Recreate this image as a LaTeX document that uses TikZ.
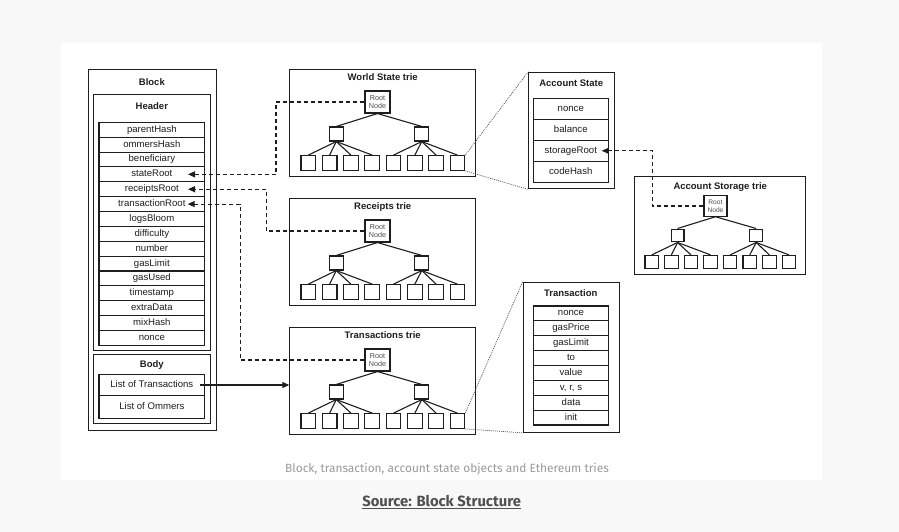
\documentclass[tikz,border=0pt]{standalone}
\usepackage{fontspec}
\setmainfont{Liberation Sans}
\newfontfamily\capfont{Fira Sans}
\usetikzlibrary{arrows.meta,calc}
\definecolor{bgc}{HTML}{F8F8F8}
\definecolor{ink}{HTML}{1E1E1E}
\definecolor{capc}{HTML}{9A9A9A}
\definecolor{srcc}{HTML}{505050}
\tikzset{
  panel/.style={draw=ink, line width=1.15pt, fill=white, inner sep=0},
  ttl/.style={font=\fontsize{9.5}{11}\selectfont\bfseries, text=ink, inner sep=0, text height=6.8pt, text depth=1.9pt},
  field/.style={draw=ink, line width=1.05pt, inner sep=0, font=\fontsize{9.6}{11}\selectfont, text=ink, text height=6.8pt, text depth=1.9pt},
  tnode/.style={draw=ink, line width=1.1pt, fill=white, inner sep=0},
  tedge/.style={draw=ink, line width=1.1pt},
  ptr/.style={draw=ink, line width=1.15pt, dash pattern=on 4pt off 3pt, -{Triangle[length=7pt,width=6pt]}},
  solidptr/.style={draw=ink, line width=1.15pt, -{Triangle[length=7pt,width=6pt]}},
  zoomline/.style={draw=ink!75, line width=0.7pt, dash pattern=on 1pt off 1pt},
}
% prefix, left, top, scale, title, title dy
\newcommand{\drawtrie}[6]{%
  \begin{scope}[shift={(#2,#3)}]
    \pgfmathsetmacro\rfs{7.2*#4}%
    \pgfmathsetmacro\rbs{8.2*#4}%
    \node[panel, anchor=north west, minimum width={#4*185.7pt}, minimum height={#4*106.7pt}] (#1) at (0,0) {};
    \node[ttl] (#1-title) at ({#4*93.4},#6) {#5};
    \node[tnode, minimum width={#4*25pt}, minimum height={#4*22pt}, align=center,
          font=\fontsize{\rfs}{\rbs}\selectfont, text=ink!80] (#1-root) at ({#4*88.2},{#4*33}) {Root\\Node};
    \node[tnode, minimum size={#4*14pt}] (#1-a) at ({#4*47},{#4*65}) {};
    \node[tnode, minimum size={#4*14pt}] (#1-b) at ({#4*132.5},{#4*65}) {};
    \foreach \i in {1,...,8}
      \node[tnode, minimum size={#4*14.7pt}] (#1-l\i) at ({#4*(19+21.3*(\i-1))},{#4*94}) {};
    \draw[tedge] (#1-root.south) -- (#1-a.north);
    \draw[tedge] (#1-root.south) -- (#1-b.north);
    \foreach \i in {1,...,4} \draw[tedge] (#1-a.south) -- (#1-l\i.north);
    \foreach \i in {5,...,8} \draw[tedge] (#1-b.south) -- (#1-l\i.north);
  \end{scope}}
\begin{document}
\begin{tikzpicture}[x=1pt, y=-1pt]
  \useasboundingbox (0,0) rectangle (899,532);
  \fill[bgc] (0,0) rectangle (899,532);
  \fill[white] (61,43) rectangle (822,480);

  % ---------------- Block ----------------
  \node[panel, anchor=north west, minimum width=127.7pt, minimum height=361pt] (block) at (88,69) {};
  \node[ttl] (blockttl) at (151.85,82.7) {Block};
  \node[panel, anchor=north west, minimum width=117pt, minimum height=256.3pt] (header) at (93.3,94) {};
  \node[ttl] (headerttl) at (151.85,107.3) {Header};
  \foreach \t [count=\i] in {parentHash,ommersHash,beneficiary,stateRoot,receiptsRoot,transactionRoot,logsBloom,difficulty,number,gasLimit,gasUsed,timestamp,extraData,mixHash,nonce}
    \node[field, minimum width=105.7pt, minimum height=14.87pt] (h\i) at (151.85,{122.3+14.87*(\i-0.5)}) {\t};
  \node[panel, anchor=north west, minimum width=117pt, minimum height=68.4pt] (body) at (93.3,354.3) {};
  \node[ttl] (bodyttl) at (151.85,365) {Body};
  \node[field, minimum width=105.7pt, minimum height=21.4pt] (lt) at (151.85,385) {List of Transactions};
  \node[field, minimum width=105.7pt, minimum height=23pt] (lo) at (151.85,407.2) {List of Ommers};

  % ---------------- Tries ----------------
  \drawtrie{ws}{289.3}{69}{1}{World State trie}{9.3}
  \drawtrie{rc}{289.3}{198}{1}{Receipts trie}{9.3}
  \drawtrie{tx}{289.3}{327}{1}{Transactions trie}{9.3}
  \drawtrie{st}{634.3}{175.7}{0.92}{Account Storage trie}{11}

  % ---------------- Account State ----------------
  \node[panel, anchor=north west, minimum width=85.7pt, minimum height=116.6pt] (acct) at (528.3,71.7) {};
  \node[ttl] (acctttl) at (571.2,84) {Account State};
  \foreach \t [count=\i] in {nonce,balance,storageRoot,codeHash}
    \node[field, minimum width=75pt, minimum height=21pt] (as\i) at (570.8,{98.3+21*(\i-0.5)}) {\t};

  % ---------------- Transaction ----------------
  \node[panel, anchor=north west, minimum width=96pt, minimum height=150pt] (txbox) at (522.7,281.7) {};
  \node[ttl] (txttl) at (570.7,294.3) {Transaction};
  \foreach \t [count=\i] in {nonce,gasPrice,gasLimit,to,value,{v, r, s},data,init}
    \node[field, minimum width=75.4pt, minimum height=14.875pt] (tf\i) at (571,{306+14.875*(\i-0.5)}) {\t};

  % ---------------- pointers ----------------
  \coordinate (srtip) at ($(h4.center)+(36.15,0)$);
  \coordinate (srbend) at ($(h4.center)+(124.15,0)$);
  \draw[ptr] (ws-root.west) -| (srbend) -- (srtip);
  \coordinate (rrtip) at ($(h5.center)+(36.15,0)$);
  \coordinate (rrbend) at ($(h5.center)+(114.85,0)$);
  \draw[ptr] (rc-root.west) -| (rrbend) -- (rrtip);
  \coordinate (trtip) at ($(h6.center)+(35.85,0)$);
  \coordinate (trbend) at ($(h6.center)+(88.45,0)$);
  \draw[ptr] (tx-root.west) -| (trbend) -- (trtip);
  \coordinate (sttip) at ($(as3.center)+(30.9,0)$);
  \coordinate (stbend) at ($(as3.center)+(81.5,0)$);
  \draw[ptr] (st-root.west) -| (stbend) -- (sttip);
  \coordinate (ltstart) at ($(lt.center)+(48.15,0)$);
  \draw[solidptr] (ltstart) -- (ltstart -| tx.west);

  % ---------------- zoom lines ----------------
  \draw[zoomline] (ws-l8.north east) -- (acct.north west);
  \draw[zoomline] (ws-l8.south east) -- (acct.south west);
  \draw[zoomline] (tx-l8.north east) -- (txbox.north west);
  \draw[zoomline] (tx-l8.south east) -- (txbox.south west);

  % ---------------- captions ----------------
  \node[font=\capfont\fontsize{11.9}{13}\selectfont, text=capc, inner sep=0] (cap) at (447,469.5) {Block, transaction, account state objects and Ethereum tries};
  \node[font=\capfont\fontsize{14.8}{16}\selectfont\bfseries, text=srcc, inner sep=0] (src) at (441.6,502) {\underline{Source: Block Structure}};
\end{tikzpicture}
\end{document}
